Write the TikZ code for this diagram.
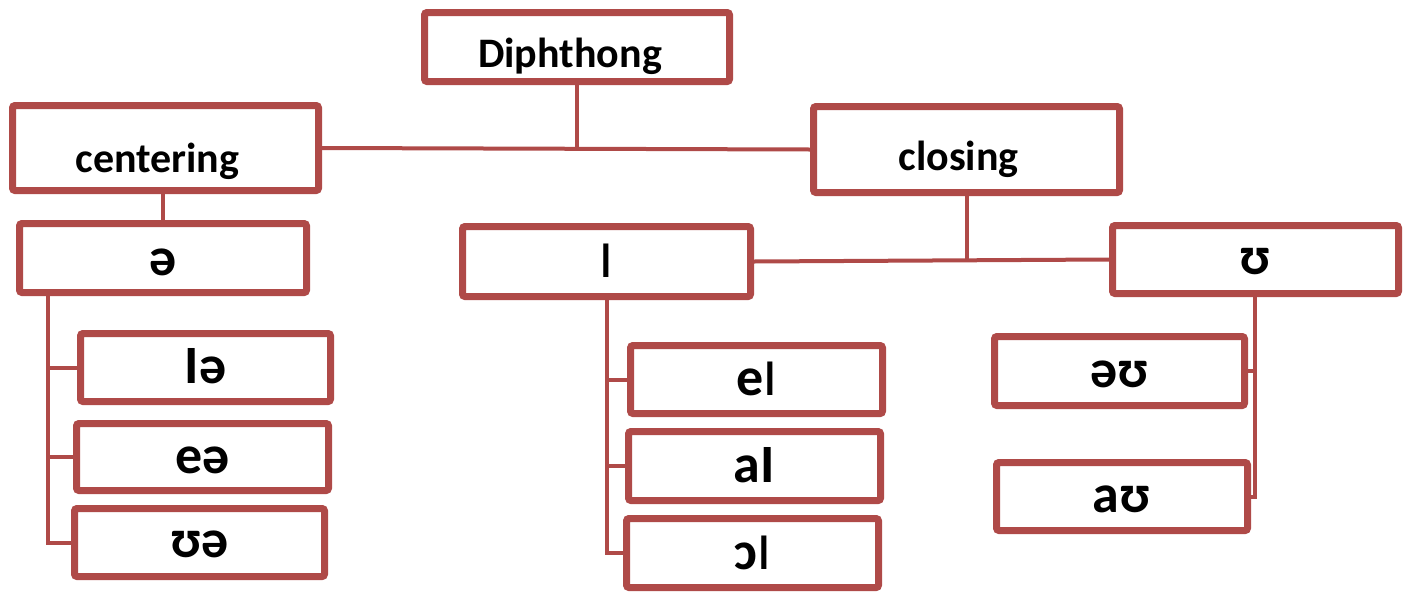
\documentclass[tikz,border=0pt]{standalone}
\usepackage{fontspec}
\setmainfont{Carlito}
\usetikzlibrary{shadows}
\definecolor{boxred}{RGB}{175,74,72}
\tikzset{
  x=1pt, y=-1pt,
  box/.style={draw=boxred, line width=7pt, fill=white, rounded corners=2.5pt,
    inner sep=0pt, text depth=0pt, font=\bfseries\fontsize{42}{42}\selectfont,
    drop shadow={shadow xshift=2pt, shadow yshift=-3pt, opacity=0.18, fill=black}},
  ipabox/.style={box, font=\bfseries\fontsize{54}{54}\selectfont, text height=32pt},
  link/.style={draw=boxred, line width=4pt}
}
\newcommand{\bx}[7]{% name, x1, y1, x2, y2, style, text
  \node[#6, minimum width={#4-#2-7}, minimum height={#5-#3-7}] (#1) at ({(#2+#4)/2},{(#3+#5)/2}) {#7};}
\newcommand{\tallbar}{{\mdseries\scalebox{1.1}[1.3]{ɪ}}}
\begin{document}
\begin{tikzpicture}
\useasboundingbox (0,0) rectangle (1413,592);
\coordinate (lsp) at (48,296);
\coordinate (msp) at (607,298);
\coordinate (rsp) at (1255,297);
\bx{diph}{421}{9}{733}{85}{box, text height=40pt}{Diphthong\kern14pt}
\bx{cent}{9}{102}{322}{194}{box, text height=49pt}{centering\kern16pt}
\bx{clos}{810}{103}{1123}{196}{box, text height=41pt}{closing\kern16pt}
\bx{schwa}{16}{220}{310}{296}{ipabox, text height=35pt}{ə}
\bx{iota}{459}{223}{754}{300}{ipabox}{\tallbar}
\bx{ups}{1109}{222}{1402}{297}{ipabox, text height=30pt}{ʊ}
\bx{ia}{77}{330}{334}{405}{ipabox}{Iə}
\bx{ea}{73}{420}{332}{494}{ipabox}{eə}
\bx{ua}{71}{505}{328}{580}{ipabox, text height=29pt}{ʊə}
\bx{ei}{627}{342}{886}{417}{ipabox}{e\tallbar}
\bx{ai}{625}{428}{884}{504}{ipabox}{aI}
\bx{oi}{623}{515}{882}{591}{ipabox}{ɔ\tallbar}
\bx{ou}{991}{333}{1248}{409}{ipabox}{əʊ}
\bx{au}{993}{459}{1251}{534}{ipabox}{aʊ}
\draw[link] (diph.south) -- (diph.south |- cent.east);
\draw[link] (cent.east) -- (clos.west);
\draw[link] (schwa.north) -- (schwa.north |- cent.south);
\draw[link] (clos.south) -- (clos.south |- iota.east);
\draw[link] (iota.east) -- (ups.west);
\draw[link] (lsp) |- (ua.west);
\draw[link] (lsp |- ia.west) -- (ia.west);
\draw[link] (lsp |- ea.west) -- (ea.west);
\draw[link] (msp) |- (oi.west);
\draw[link] (msp |- ei.west) -- (ei.west);
\draw[link] (msp |- ai.west) -- (ai.west);
\draw[link] (rsp) |- (au.east);
\draw[link] (rsp |- ou.east) -- (ou.east);
\end{tikzpicture}
\end{document}
